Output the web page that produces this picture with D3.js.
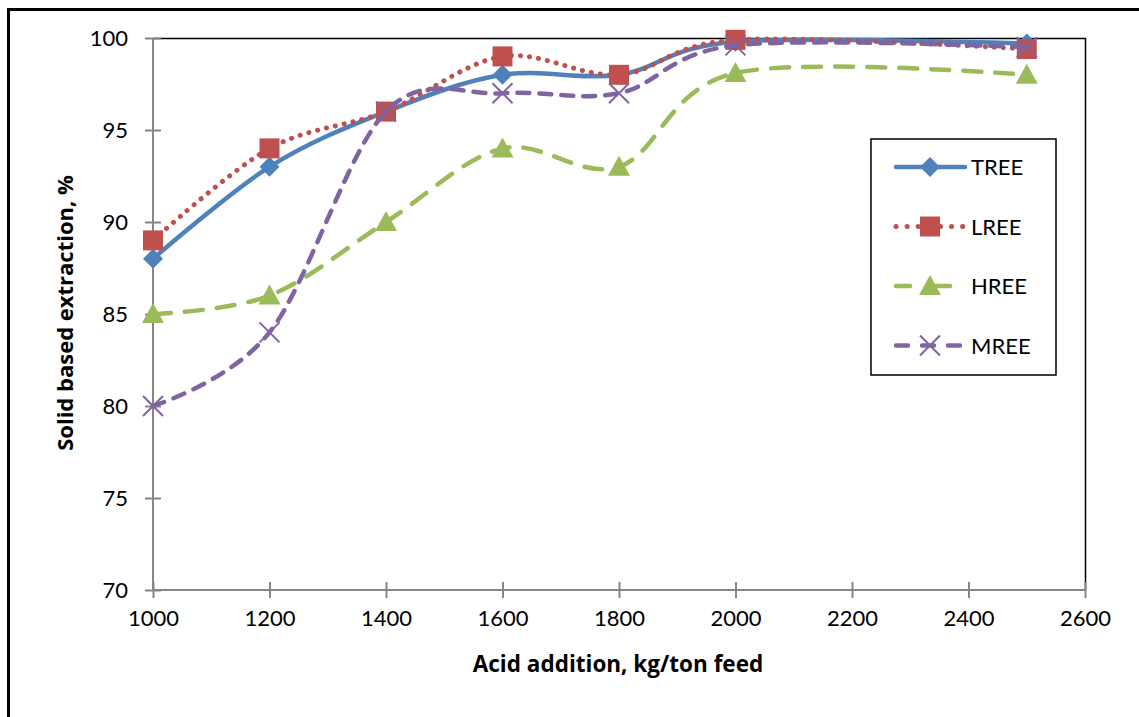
<!DOCTYPE html>
<html>
<head>
<meta charset="utf-8">
<script src="https://cdn.jsdelivr.net/npm/d3@7"></script>
<style>
  html, body { margin: 0; padding: 0; background: #fff; }
  svg { display: block; }
  text { font-family: Lato, "Open Sans", "Liberation Sans", sans-serif; }
  .title { font-family: "Open Sans", Lato, sans-serif; font-weight: bold; }
</style>
</head>
<body>
<svg id="chart" width="1139" height="717"></svg>
<script>
// Acid addition (kg/ton feed)
const acidAddition = [1000, 1200, 1400, 1600, 1800, 2000, 2500];

// Solid based extraction (%) for each REE group
const treeValues = [88, 93, 96, 98, 98, 99.8, 99.7];
const lreeValues = [89, 94, 96, 99, 98, 99.9, 99.4];
const hreeValues = [85, 86, 90, 94, 93, 98.1, 98];
const mreeValues = [80, 84, 96, 97, 97, 99.6, 99.5];

const seriesNames = ["TREE", "LREE", "HREE", "MREE"];
const xTicks = [1000, 1200, 1400, 1600, 1800, 2000, 2200, 2400, 2600];
const yTicks = [70, 75, 80, 85, 90, 95, 100];

const seriesStyle = {
  TREE: { color: "#4F81BD", dash: null, legendDash: null, marker: "diamond" },
  LREE: { color: "#C0504D", dash: "0.1 9", legendDash: "0.1 11", marker: "square" },
  HREE: { color: "#9BBB59", dash: "18 14", legendDash: "14 26", marker: "triangle" },
  MREE: { color: "#8064A2", dash: "12 10", legendDash: "12 14", marker: "x" }
};

const seriesValues = { TREE: treeValues, LREE: lreeValues, HREE: hreeValues, MREE: mreeValues };

const svg = d3.select("#chart");
const plot = { left: 153, right: 1085, top: 38, bottom: 590 };

const x = d3.scaleLinear().domain([1000, 2600]).range([plot.left, plot.right]);
const y = d3.scaleLinear().domain([70, 100]).range([plot.bottom, plot.top]);

// Outer frame (only top and left edges fall inside the canvas)
svg.append("rect")
  .attr("x", 8.5).attr("y", 9.5)
  .attr("width", 1200).attr("height", 800)
  .attr("fill", "none").attr("stroke", "#000").attr("stroke-width", 3);

// Plot-area border on the top and right
svg.append("path")
  .attr("d", `M${plot.left},${plot.top + 0.5}H${plot.right + 0.5}V${plot.bottom}`)
  .attr("fill", "none").attr("stroke", "#000").attr("stroke-width", 1.5);

// Y axis
const yAxis = svg.append("g")
  .attr("transform", `translate(${plot.left},0)`)
  .call(d3.axisLeft(y).tickValues(yTicks).tickSize(8).tickPadding(17).tickFormat(d3.format("d")));
yAxis.selectAll(".tick line").attr("x2", 8).attr("x1", -8);
yAxis.select(".domain").remove();
yAxis.append("line").attr("x1", 0).attr("x2", 0).attr("y1", plot.top).attr("y2", plot.bottom);

// X axis
const xAxis = svg.append("g")
  .attr("transform", `translate(0,${plot.bottom})`)
  .call(d3.axisBottom(x).tickValues(xTicks).tickSize(8).tickPadding(12).tickFormat(d3.format("d")));
xAxis.selectAll(".tick line").attr("y1", -8).attr("y2", 8);
xAxis.select(".domain").remove();
xAxis.append("line").attr("x1", plot.left).attr("x2", plot.right).attr("y1", 0).attr("y2", 0);

[yAxis, xAxis].forEach(g => {
  g.selectAll("line").attr("stroke", "#868686").attr("stroke-width", 2);
  g.selectAll("text").attr("font-size", 22).attr("fill", "#000")
    .attr("font-family", "Lato, 'Open Sans', sans-serif");
});

// Axis titles
svg.append("text")
  .attr("class", "title")
  .attr("x", (plot.left + plot.right) / 2 - 1).attr("y", 672)
  .attr("text-anchor", "middle").attr("font-size", 22.5)
  .text("Acid addition, kg/ton feed");

svg.append("text")
  .attr("class", "title")
  .attr("transform", `translate(73,${(plot.top + plot.bottom) / 2 - 1}) rotate(-90)`)
  .attr("text-anchor", "middle").attr("font-size", 22)
  .text("Solid based extraction, %");

// Smoothed lines
const line = d3.line()
  .x((d, i) => x(acidAddition[i]))
  .y(d => y(d))
  .curve(d3.curveCatmullRom.alpha(0));

function drawMarker(g, type, color, cx, cy) {
  if (type === "diamond") {
    g.append("path").attr("d", `M${cx},${cy - 10}L${cx + 10},${cy}L${cx},${cy + 10}L${cx - 10},${cy}Z`)
      .attr("fill", color);
  } else if (type === "square") {
    g.append("rect").attr("x", cx - 10).attr("y", cy - 10).attr("width", 20).attr("height", 20)
      .attr("fill", color);
  } else if (type === "triangle") {
    g.append("path").attr("d", `M${cx},${cy - 11}L${cx + 11},${cy + 9}L${cx - 11},${cy + 9}Z`)
      .attr("fill", color);
  } else if (type === "x") {
    g.append("path").attr("d", `M${cx - 10},${cy - 10}L${cx + 10},${cy + 10}M${cx - 10},${cy + 10}L${cx + 10},${cy - 10}`)
      .attr("stroke", color).attr("stroke-width", 2).attr("fill", "none");
  }
}

seriesNames.forEach(name => {
  const st = seriesStyle[name];
  const g = svg.append("g");
  g.append("path")
    .datum(seriesValues[name])
    .attr("d", line)
    .attr("fill", "none")
    .attr("stroke", st.color)
    .attr("stroke-width", name === "LREE" ? 5 : 4.5)
    .attr("stroke-linecap", "round")
    .attr("stroke-dasharray", st.dash);
  seriesValues[name].forEach((v, i) => drawMarker(g, st.marker, st.color, x(acidAddition[i]), y(v)));
});

// Legend
const legend = svg.append("g");
legend.append("rect")
  .attr("x", 871).attr("y", 139).attr("width", 185).attr("height", 236)
  .attr("fill", "#fff").attr("stroke", "#000").attr("stroke-width", 1.5);

seriesNames.forEach((name, i) => {
  const st = seriesStyle[name];
  const ly = 167 + i * 59.5;
  const row = legend.append("g");
  row.append("line")
    .attr("x1", 896).attr("x2", 965).attr("y1", ly).attr("y2", ly)
    .attr("stroke", st.color).attr("stroke-width", name === "LREE" ? 5 : 4.5)
    .attr("stroke-linecap", "round")
    .attr("stroke-dasharray", st.legendDash);
  drawMarker(row, st.marker, st.color, 930, ly);
  row.append("text")
    .attr("x", 971).attr("y", ly + 8)
    .attr("font-size", 22).attr("fill", "#000")
    .text(name);
});
</script>
</body>
</html>
